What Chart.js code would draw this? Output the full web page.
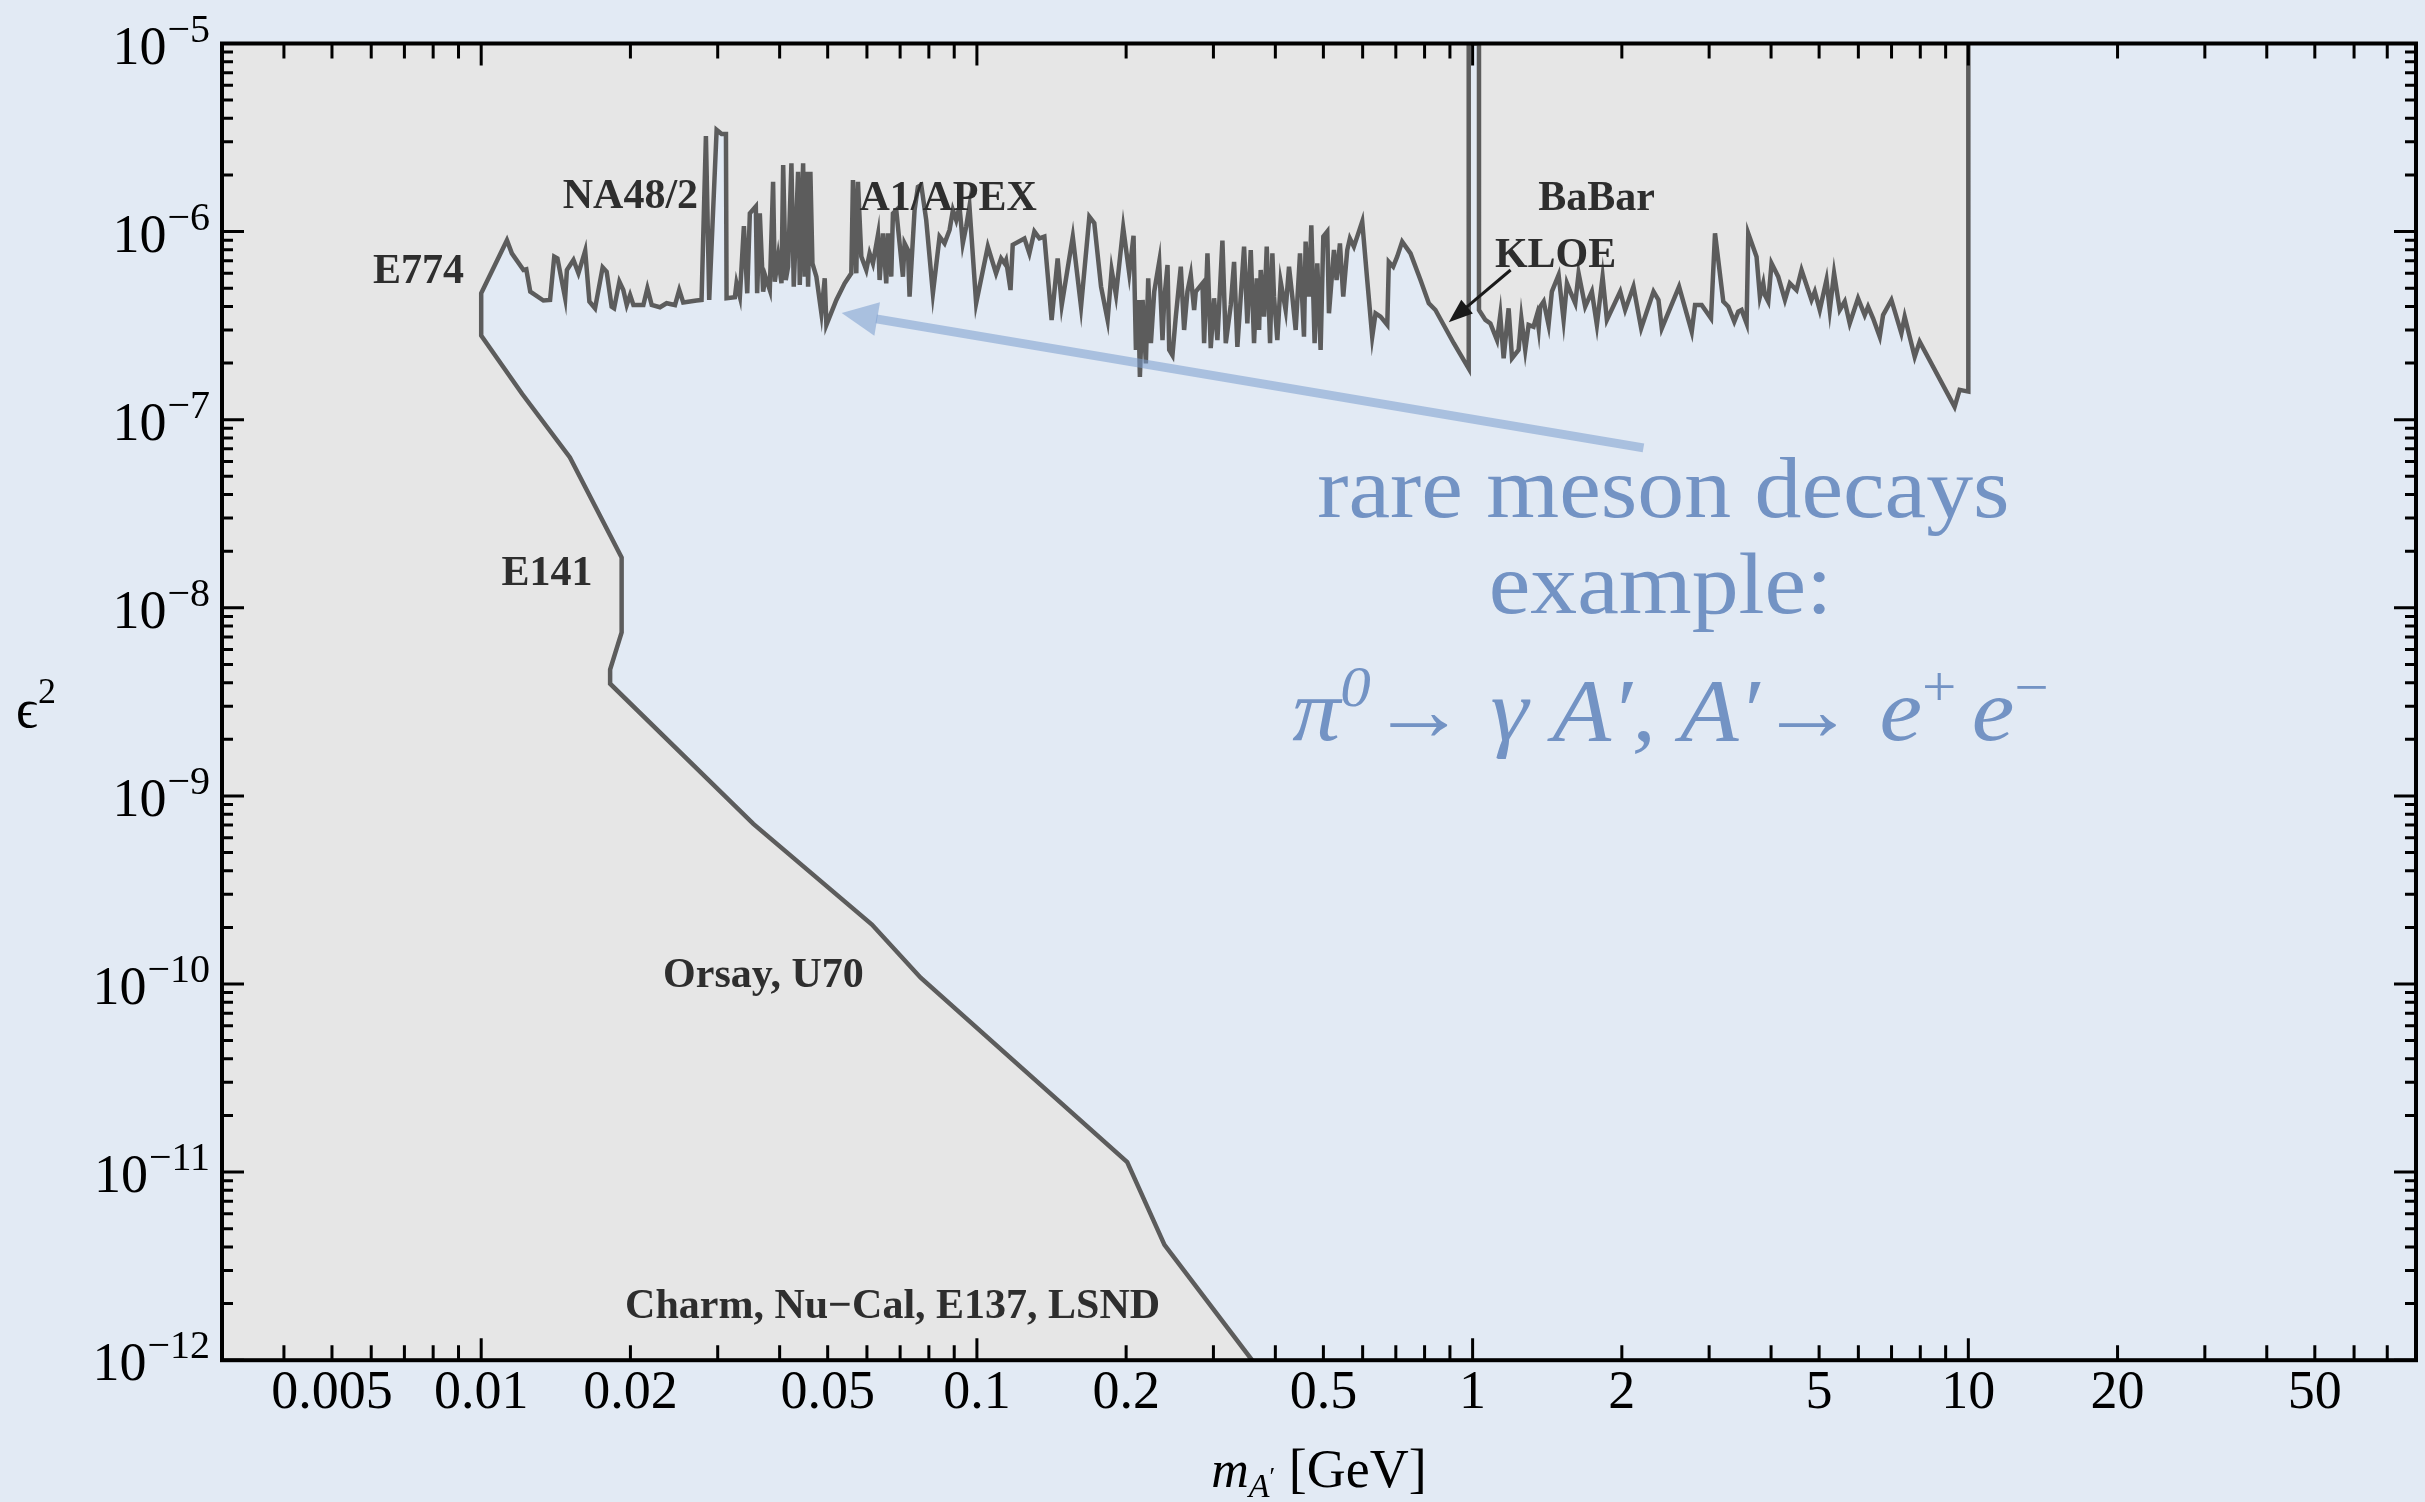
<!DOCTYPE html>
<html><head><meta charset="utf-8">
<script src="https://cdn.jsdelivr.net/npm/chart.js@4.4.1/dist/chart.umd.min.js"></script>
<style>
html,body{margin:0;padding:0;background:#e2eaf4;}
canvas{display:block;}
</style></head>
<body>
<canvas id="c" width="2425" height="1502"></canvas>
<script>
// ---------------- axis ranges & tick labels ----------------
const X_MIN = 0.003, X_MAX = 80, Y_MIN = 1e-12, Y_MAX = 1e-5;
const xTickValues = [0.005, 0.01, 0.02, 0.05, 0.1, 0.2, 0.5, 1, 2, 5, 10, 20, 50];
const xTickLabels = ['0.005', '0.01', '0.02', '0.05', '0.1', '0.2', '0.5', '1', '2', '5', '10', '20', '50'];
const yTickExponents = [-12, -11, -10, -9, -8, -7, -6, -5];

// ---------------- boundary data [mass GeV, epsilon^2] ----------------
// beam-dump edge (E774 / E141 / Orsay / Charm...), from m = 0.01 down to the bottom axis
const beamDumpEdge = [
  [0.01, 2.8e-7], [0.0121, 1.37e-7], [0.0151, 6.3e-8], [0.0192, 1.85e-8], [0.0192, 7.4e-9],
  [0.0182, 4.7e-9], [0.0182, 3.95e-9], [0.0354, 7.1e-10], [0.0614, 2.07e-10], [0.0770, 1.08e-10],
  [0.201, 1.13e-11], [0.239, 4.1e-12], [0.359, 1e-12]
];
// upper limit, E774 / NA48/2 / A1 region (0.01 - 0.1 GeV)
const upperLowMass = [
  [0.01, 4.7e-7], [0.01127, 9.0e-7], [0.01153, 7.66e-7], [0.01217, 6.25e-7], [0.01233, 6.3e-7],
  [0.01256, 4.8e-7], [0.01335, 4.3e-7], [0.01377, 4.33e-7], [0.01404, 7.36e-7], [0.01425, 7.2e-7],
  [0.01477, 4.42e-7], [0.01489, 6.25e-7], [0.01535, 7.06e-7], [0.01571, 6.0e-7], [0.01621, 7.9e-7],
  [0.01653, 4.25e-7], [0.01697, 3.91e-7], [0.01758, 6.46e-7], [0.01791, 6.12e-7], [0.01833, 3.99e-7],
  [0.01854, 3.91e-7], [0.0190, 5.42e-7], [0.01935, 4.89e-7], [0.01966, 4.07e-7], [0.01997, 4.6e-7],
  [0.02028, 4.07e-7], [0.02124, 4.07e-7], [0.02164, 5.0e-7], [0.02208, 4.07e-7], [0.02294, 3.96e-7],
  [0.02366, 4.16e-7], [0.0246, 4.07e-7], [0.02509, 4.89e-7], [0.02556, 4.2e-7], [0.02719, 4.3e-7],
  [0.02783, 4.33e-7], [0.0284, 3.22e-6], [0.02884, 4.33e-7], [0.02985, 3.47e-6], [0.03055, 3.3e-6],
  [0.03117, 3.3e-6], [0.03126, 4.42e-7], [0.03249, 4.48e-7], [0.03274, 5.31e-7], [0.03325, 4.51e-7],
  [0.03388, 1.07e-6], [0.03441, 4.7e-7], [0.03483, 1.25e-6], [0.03581, 1.36e-6], [0.03603, 4.7e-7],
  [0.03648, 1.25e-6], [0.03705, 4.8e-7], [0.03745, 5.76e-7], [0.03821, 4.89e-7], [0.0388, 1.84e-6],
  [0.03911, 5.42e-7], [0.03972, 7.36e-7], [0.04034, 5.31e-7], [0.04066, 2.26e-6], [0.04115, 5.53e-7],
  [0.0416, 6.51e-7], [0.04225, 2.31e-6], [0.04271, 5.1e-7], [0.04358, 2.08e-6], [0.04392, 5.2e-7],
  [0.04461, 2.31e-6], [0.04495, 5.76e-7], [0.0453, 2.08e-6], [0.04565, 5.1e-7], [0.04614, 2.08e-6],
  [0.04658, 6.78e-7], [0.04744, 5.76e-7], [0.04856, 3.68e-7], [0.04932, 5.65e-7], [0.0497, 3.19e-7],
  [0.05206, 4.33e-7], [0.0541, 5.31e-7], [0.0558, 6.0e-7], [0.05623, 1.88e-6], [0.05711, 6.0e-7],
  [0.05755, 1.84e-6], [0.05845, 7.36e-7], [0.05982, 6.25e-7], [0.06075, 7.66e-7], [0.0617, 6.78e-7],
  [0.06315, 9.6e-7], [0.06364, 5.53e-7], [0.06463, 9.79e-7], [0.06563, 5.31e-7], [0.06615, 9.79e-7],
  [0.06718, 5.76e-7], [0.0677, 1.25e-6], [0.06876, 1.3e-6], [0.06983, 8.66e-7], [0.07092, 5.76e-7],
  [0.07147, 8.66e-7], [0.07259, 7.98e-7], [0.07314, 4.51e-7], [0.07486, 1.3e-6], [0.07603, 1.73e-6],
  [0.07721, 1.77e-6], [0.07903, 1.15e-6], [0.08151, 4.7e-7], [0.08408, 9.4e-7], [0.08605, 8.66e-7],
  [0.08808, 1.02e-6], [0.08945, 1.3e-6], [0.09085, 1.15e-6], [0.09224, 1.36e-6], [0.09366, 8.66e-7],
  [0.09512, 1.06e-6], [0.0966, 1.36e-6], [0.09965, 4.16e-7]
];
// upper limit, A1 / KLOE region (0.1 - 1.03 GeV), incl. the phi window
const upperMidMass = [
  [0.1052, 8.32e-7], [0.1093, 6.0e-7], [0.1119, 7.2e-7], [0.1137, 6.78e-7], [0.1145, 7.06e-7],
  [0.1169, 4.89e-7], [0.1181, 8.5e-7], [0.1247, 9.2e-7], [0.1276, 7.66e-7], [0.1306, 1.0e-6],
  [0.1337, 9.2e-7], [0.1368, 9.4e-7], [0.1415, 3.39e-7], [0.1455, 7.2e-7], [0.1483, 4.07e-7],
  [0.1561, 9.4e-7], [0.1622, 3.99e-7], [0.1686, 1.2e-6], [0.1725, 1.11e-6], [0.178, 5.1e-7],
  [0.1835, 3.39e-7], [0.187, 6.25e-7], [0.1908, 4.6e-7], [0.1973, 1.05e-6], [0.2029, 6.0e-7],
  [0.207, 9.5e-7], [0.2093, 2.35e-7], [0.2116, 4.33e-7], [0.2132, 1.69e-7], [0.2159, 4.33e-7],
  [0.2192, 1.99e-7], [0.2216, 5.65e-7], [0.2244, 2.55e-7], [0.2279, 4.8e-7], [0.2332, 6.9e-7],
  [0.2368, 2.65e-7], [0.2387, 4.33e-7], [0.2424, 6.65e-7], [0.2443, 2.35e-7], [0.248, 2.2e-7],
  [0.2519, 3.53e-7], [0.2578, 6.51e-7], [0.2618, 3.0e-7], [0.2659, 4.8e-7], [0.27, 5.88e-7],
  [0.2743, 3.83e-7], [0.2764, 4.8e-7], [0.2851, 5.31e-7], [0.2873, 2.55e-7], [0.2918, 7.66e-7],
  [0.2963, 2.4e-7], [0.3009, 4.42e-7], [0.3056, 2.65e-7], [0.3128, 8.95e-7], [0.3177, 2.55e-7],
  [0.3252, 4.07e-7], [0.3302, 6.9e-7], [0.3353, 2.44e-7], [0.3406, 4.51e-7], [0.3459, 8.32e-7],
  [0.3512, 3.25e-7], [0.3568, 7.98e-7], [0.3623, 2.55e-7], [0.3669, 5.65e-7], [0.3709, 3.0e-7],
  [0.3737, 6.25e-7], [0.3796, 3.53e-7], [0.3843, 8.32e-7], [0.3903, 2.55e-7], [0.3945, 7.66e-7],
  [0.3975, 4.51e-7], [0.4037, 2.65e-7], [0.41, 5.42e-7], [0.4196, 3.83e-7], [0.4262, 6.51e-7],
  [0.4328, 4.51e-7], [0.4396, 3.0e-7], [0.4485, 7.66e-7], [0.4569, 2.76e-7], [0.4604, 8.85e-7],
  [0.4676, 4.51e-7], [0.4727, 1.08e-6], [0.48, 2.55e-7], [0.486, 6.78e-7], [0.4936, 2.35e-7],
  [0.4998, 9.4e-7], [0.5091, 1.0e-6], [0.5131, 3.68e-7], [0.5251, 7.98e-7], [0.5316, 5.53e-7],
  [0.5399, 8.66e-7], [0.5483, 4.51e-7], [0.5586, 7.98e-7], [0.5655, 9.2e-7], [0.5761, 8.32e-7],
  [0.5988, 1.13e-6], [0.6129, 5.53e-7], [0.6273, 2.76e-7], [0.6371, 3.68e-7], [0.6521, 3.53e-7],
  [0.6727, 3.19e-7], [0.6776, 6.9e-7], [0.6915, 6.51e-7], [0.7044, 7.36e-7], [0.7209, 8.85e-7],
  [0.7494, 7.66e-7], [0.785, 5.53e-7], [0.8159, 4.16e-7], [0.8414, 3.83e-7], [0.9161, 2.55e-7],
  [0.982, 1.87e-7], [0.982, 1e-5], [1.03, 1e-5], [1.03, 3.83e-7]
];
// upper limit, BaBar region (1.03 - 10 GeV)
const upperHighMass = [
  [1.061, 3.39e-7], [1.086, 3.25e-7], [1.12, 2.65e-7], [1.137, 3.6e-7], [1.155, 2.12e-7],
  [1.182, 3.91e-7], [1.201, 2.12e-7], [1.238, 2.35e-7], [1.254, 3.46e-7], [1.277, 2.35e-7],
  [1.297, 3.19e-7], [1.327, 3.12e-7], [1.348, 3.6e-7], [1.359, 3.06e-7], [1.369, 3.99e-7],
  [1.391, 4.25e-7], [1.423, 3.19e-7], [1.445, 4.8e-7], [1.491, 5.88e-7], [1.526, 3.39e-7],
  [1.55, 5.31e-7], [1.574, 4.8e-7], [1.611, 4.16e-7], [1.636, 6.0e-7], [1.687, 3.99e-7],
  [1.74, 4.8e-7], [1.781, 3.19e-7], [1.829, 5.76e-7], [1.866, 3.39e-7], [1.985, 4.8e-7],
  [2.031, 3.83e-7], [2.111, 5.1e-7], [2.188, 3.06e-7], [2.317, 4.8e-7], [2.371, 4.33e-7],
  [2.408, 3.06e-7], [2.609, 5.1e-7], [2.767, 2.94e-7], [2.81, 4.07e-7], [2.898, 4.07e-7],
  [3.026, 3.46e-7], [3.083, 9.79e-7], [3.204, 4.25e-7], [3.28, 3.99e-7], [3.372, 3.32e-7],
  [3.435, 3.75e-7], [3.488, 3.83e-7], [3.57, 3.25e-7], [3.598, 9.79e-7], [3.739, 7.36e-7],
  [3.798, 4.51e-7], [3.857, 5.31e-7], [3.887, 4.6e-7], [3.948, 4.25e-7], [4.009, 6.78e-7],
  [4.135, 5.76e-7], [4.266, 4.33e-7], [4.365, 5.31e-7], [4.502, 4.89e-7], [4.608, 6.25e-7],
  [4.826, 4.33e-7], [4.901, 4.8e-7], [5.016, 3.83e-7], [5.174, 5.53e-7], [5.254, 3.83e-7],
  [5.36, 6.0e-7], [5.503, 3.83e-7], [5.632, 4.25e-7], [5.764, 3.25e-7], [5.991, 4.42e-7],
  [6.18, 3.6e-7], [6.277, 3.99e-7], [6.424, 3.46e-7], [6.626, 2.76e-7], [6.73, 3.6e-7],
  [6.995, 4.33e-7], [7.327, 2.88e-7], [7.441, 3.53e-7], [7.795, 2.16e-7], [7.977, 2.6e-7],
  [9.382, 1.17e-7], [9.603, 1.44e-7], [10, 1.41e-7], [10, 1e-5]
];

// ---------------- build datasets from the arrays ----------------
const toXY = p => ({x: p[0], y: p[1]});
const outline = [...beamDumpEdge].reverse().concat(upperLowMass, upperMidMass, upperHighMass).map(toXY);
const excludedPolygon = [{x: X_MIN, y: Y_MIN}].concat(outline);

function logTicks(min, max) {
  const out = [];
  for (let e = Math.floor(Math.log10(min)); e <= Math.ceil(Math.log10(max)); e++) {
    for (let k = 1; k <= 9; k++) {
      const v = Number((k * Math.pow(10, e)).toPrecision(6));
      if (v >= min * 0.999999 && v <= max * 1.000001) out.push(v);
    }
  }
  return out;
}
const xAllTicks = logTicks(X_MIN, X_MAX);
const yAllTicks = logTicks(Y_MIN, Y_MAX);
function xLabelFor(v) {
  const i = xTickValues.findIndex(t => Math.abs(t - v) / t < 1e-6);
  return i >= 0 ? xTickLabels[i] : '';
}

// ---------------- annotation layout ----------------
const SERIF = '"Liberation Serif", "Times New Roman", serif';
const regionLabels = [
  {t: 'E774', m: 0.00747, e: 5.33e-7},
  {t: 'NA48/2', m: 0.0200, e: 1.33e-6},
  {t: 'A1/APEX', m: 0.0875, e: 1.30e-6},
  {t: 'BaBar', m: 1.778, e: 1.30e-6},
  {t: 'KLOE', m: 1.47, e: 6.49e-7},
  {t: 'E141', m: 0.01358, e: 1.32e-8},
  {t: 'Orsay, U70', m: 0.0371, e: 9.64e-11},
  {t: 'Charm, Nu\u2212Cal, E137, LSND', m: 0.0676, e: 1.68e-12}
];

function drawRuns(ctx, runs, cx, baseY, sx) {
  let w = 0;
  for (const r of runs) { ctx.font = r.font; r.w = ctx.measureText(r.t).width; w += r.w + (r.gap || 0); }
  ctx.save();
  ctx.translate(cx, baseY);
  ctx.scale(sx, 1);
  ctx.textAlign = 'left';
  ctx.textBaseline = 'alphabetic';
  let xx = -w / 2;
  for (const r of runs) { ctx.font = r.font; ctx.fillText(r.t, xx, r.dy || 0); xx += r.w + (r.gap || 0); }
  ctx.restore();
}
function drawArrow(ctx, x1, y1, x2, y2, lw, headL, headW, color) {
  const dx = x2 - x1, dy = y2 - y1, L = Math.hypot(dx, dy);
  const ux = dx / L, uy = dy / L, nx = -uy, ny = ux;
  const bx = x2 - ux * headL, by = y2 - uy * headL;
  ctx.save();
  ctx.strokeStyle = color; ctx.fillStyle = color; ctx.lineWidth = lw; ctx.lineCap = 'butt';
  ctx.beginPath(); ctx.moveTo(x1, y1); ctx.lineTo(bx + ux * 1, by + uy * 1); ctx.stroke();
  ctx.beginPath(); ctx.moveTo(x2, y2);
  ctx.lineTo(bx + nx * headW, by + ny * headW);
  ctx.lineTo(bx - nx * headW, by - ny * headW);
  ctx.closePath(); ctx.fill();
  ctx.restore();
}

const decorPlugin = {
  id: 'decor',
  afterDraw(chart) {
    const {ctx, chartArea: A, scales: {x, y}} = chart;
    const px = m => x.getPixelForValue(m), py = e => y.getPixelForValue(e);
    ctx.save();

    // region labels
    ctx.fillStyle = '#2e2e2e';
    ctx.font = 'bold 42px ' + SERIF;
    ctx.textAlign = 'center'; ctx.textBaseline = 'alphabetic';
    for (const l of regionLabels) ctx.fillText(l.t, px(l.m), py(l.e));

    // KLOE pointer
    drawArrow(ctx, px(1.193), py(6.25e-7), px(0.895), py(3.3e-7), 3, 24, 9, '#1a1a1a');

    // blue annotation arrow + text
    drawArrow(ctx, px(2.211), py(7.08e-8), px(0.05336), py(3.69e-7), 9, 36, 17, 'rgba(122,156,206,0.55)');
    ctx.fillStyle = '#7393c4';
    drawRuns(ctx, [{t: 'rare meson decays', font: '86px ' + SERIF}], px(2.426), py(3.04e-8), 1.09);
    drawRuns(ctx, [{t: 'example:', font: '86px ' + SERIF}], px(2.393), py(9.38e-9), 1.09);
    const it = 'italic 88px ' + SERIF, up = '88px ' + SERIF, sup = 'italic 56px ' + SERIF, supU = '56px ' + SERIF;
    drawRuns(ctx, [
      {t: '\u03C0', font: it}, {t: '0', font: sup, dy: -34}, {t: '\u2192', font: up},
      {t: ' \u03B3 A\u2032, A\u2032', font: it}, {t: '\u2192', font: up},
      {t: ' e', font: it}, {t: '+', font: supU, dy: -34, gap: 14}, {t: 'e', font: it}, {t: '\u2212', font: supU, dy: -34}
    ], px(2.506), py(1.98e-9), 1.09);

    // ticks (inward, on all four sides)
    ctx.strokeStyle = '#000'; ctx.lineWidth = 3; ctx.lineCap = 'butt';
    const isMajor = v => Math.abs(Math.log10(v) - Math.round(Math.log10(v))) < 1e-6;
    ctx.beginPath();
    for (const t of x.ticks) {
      const X = px(t.value), L = isMajor(t.value) ? 22 : 15;
      ctx.moveTo(X, A.bottom); ctx.lineTo(X, A.bottom - L);
      ctx.moveTo(X, A.top); ctx.lineTo(X, A.top + L);
    }
    for (const t of y.ticks) {
      const Y = py(t.value), L = isMajor(t.value) ? 22 : 11;
      ctx.moveTo(A.left, Y); ctx.lineTo(A.left + L, Y);
      ctx.moveTo(A.right, Y); ctx.lineTo(A.right - L, Y);
    }
    ctx.stroke();

    // frame
    ctx.lineWidth = 4;
    ctx.strokeRect(A.left, A.top, A.right - A.left, A.bottom - A.top);

    // y tick labels 10^n
    ctx.fillStyle = '#000'; ctx.textAlign = 'left'; ctx.textBaseline = 'alphabetic';
    for (const ex of yTickExponents) {
      const Y = py(Math.pow(10, ex));
      const s = '\u2212' + Math.abs(ex);
      ctx.font = '54px ' + SERIF; const w10 = ctx.measureText('10').width;
      ctx.font = '40px ' + SERIF; const ws = ctx.measureText(s).width;
      const x0 = A.left - 12 - ws - w10 - 1;
      ctx.font = '54px ' + SERIF; ctx.fillText('10', x0, Y + 20);
      ctx.font = '40px ' + SERIF; ctx.fillText(s, x0 + w10 + 1, Y - 2);
    }

    // axis titles
    drawRuns(ctx, [
      {t: 'm', font: 'italic 52px ' + SERIF}, {t: 'A', font: 'italic 34px ' + SERIF, dy: 10},
      {t: '\u2032', font: '26px ' + SERIF, dy: -2}, {t: ' [GeV]', font: '54px ' + SERIF}
    ], (A.left + A.right) / 2, 1487, 1);
    drawRuns(ctx, [
      {t: '\u03F5', font: '54px ' + SERIF}, {t: '2', font: '36px ' + SERIF, dy: -24}
    ], 36, (A.top + A.bottom) / 2 + 25, 1);

    ctx.restore();
  }
};

new Chart(document.getElementById('c'), {
  type: 'line',
  data: {
    datasets: [
      {label: 'limit', data: outline, borderColor: '#5c5c5c', borderWidth: 4.5, pointRadius: 0,
       fill: false, tension: 0, order: 0, borderJoinStyle: 'miter'},
      {label: 'excluded', data: excludedPolygon, borderColor: 'rgba(0,0,0,0)', borderWidth: 0.001,
       pointRadius: 0, backgroundColor: '#e6e6e6', fill: 'end', tension: 0, order: 1}
    ]
  },
  options: {
    responsive: false, animation: false, events: [],
    layout: {padding: {left: 222, right: 9, top: 43.5, bottom: 75}},
    plugins: {legend: {display: false}, tooltip: {enabled: false}},
    scales: {
      x: {
        type: 'logarithmic', min: X_MIN, max: X_MAX, bounds: 'data', position: 'bottom',
        grid: {display: false, drawTicks: false}, border: {display: false},
        afterBuildTicks: s => { s.ticks = xAllTicks.map(v => ({value: v})); },
        ticks: {autoSkip: false, maxRotation: 0, minRotation: 0, padding: 1, color: '#000',
                font: {family: SERIF, size: 54}, callback: v => xLabelFor(v)}
      },
      y: {
        type: 'logarithmic', min: Y_MIN, max: Y_MAX, bounds: 'data', display: false,
        afterBuildTicks: s => { s.ticks = yAllTicks.map(v => ({value: v})); }
      }
    }
  },
  plugins: [decorPlugin]
});
</script>
</body></html>
